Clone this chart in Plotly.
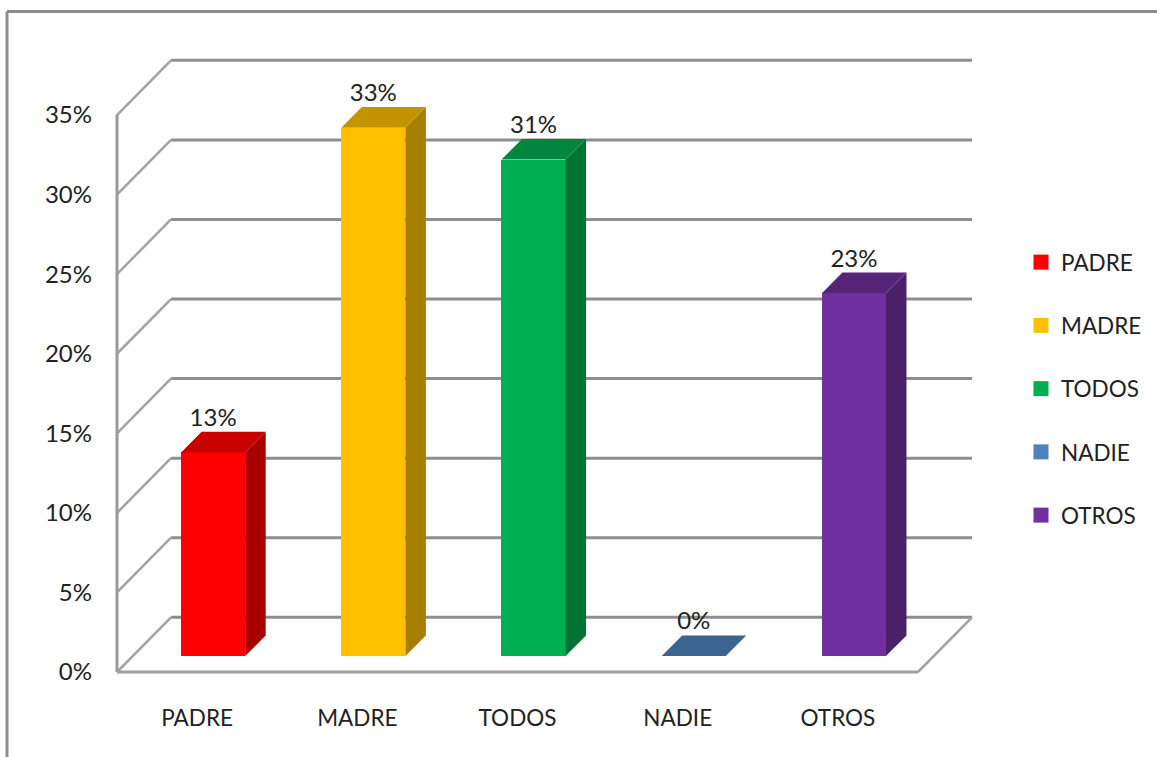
import plotly.graph_objects as go

categories = ["PADRE", "MADRE", "TODOS", "NADIE", "OTROS"]
values = [12.8, 33.2, 31.2, 0, 22.8]
front_colors = ["#FF0000", "#FFC000", "#00B050", "#4F81BD", "#7030A0"]
side_colors = ["#A80000", "#A87E00", "#007434", "#3C6490", "#4A2069"]
top_colors = ["#C80000", "#C49300", "#00863D", "#3C6490", "#562479"]
y_ticks = [0, 5, 10, 15, 20, 25, 30, 35]

W, H = 1157, 757
PAD = 5                              # spare pixels so edge lines are not clipped
L, R, T, B = 117 - PAD, 972 + PAD, 60 - PAD, 672 + PAD
X_LEFT, X_RIGHT = -0.5, 4.837        # box extent in data units
Y_TOP = 38.46
PX_PER_X, PX_PER_Y = 160.2, 15.914
WALL_DX, WALL_DY = 0.337, 3.44       # depth of the box
SHIFT_X, SHIFT_Y = 0.1, 1.0          # bars stand a little inside the floor
BAR_W = 0.4
BAR_DX, BAR_DY = 0.128, 1.3          # depth of a bar
FONT = "Lato, sans-serif"
FS = 22.5
FS_NUM = 24
GRID = "#8E8E8E"
DIAG = "#A3A3A3"

shapes = []
def line(x0, y0, x1, y1, color=GRID, width=3):
    shapes.append(dict(type="line", layer="below", xref="x", yref="y", x0=x0, y0=y0, x1=x1, y1=y1,
                       line=dict(color=color, width=width)))

for t in y_ticks:
    line(X_LEFT + WALL_DX, t + WALL_DY, X_RIGHT, t + WALL_DY)
    line(X_LEFT, t, X_LEFT + WALL_DX, t + WALL_DY, DIAG, 2.5)
line(X_LEFT, 0, X_LEFT, y_ticks[-1], "#9A9A9A", 3)
line(X_LEFT, 0, X_RIGHT - WALL_DX, 0, "#A0A0A0", 3)
line(X_RIGHT - WALL_DX, 0, X_RIGHT, WALL_DY, DIAG, 2.5)

def px(p): return (p - L) / (R - L)
def py(p): return (B - p) / (B - T)
for x0, y0, x1, y1 in [(7, 11.5, W, 11.5), (7, 11.5, 7, H)]:
    shapes.append(dict(type="line", layer="below", xref="paper", yref="paper",
                       x0=px(x0), y0=py(y0), x1=px(x1), y1=py(y1),
                       line=dict(color="#8C8C8C", width=3)))

fig = go.Figure()
centers = [i + SHIFT_X for i in range(len(categories))]

fig.add_trace(go.Bar(x=centers, y=values, base=[SHIFT_Y] * len(values), width=BAR_W,
                     marker=dict(color=front_colors, line=dict(width=0)), showlegend=False,
                     hoverinfo="skip"))

for c, v, sc, tc in zip(centers, values, side_colors, top_colors):
    x0, x1 = c - BAR_W / 2, c + BAR_W / 2
    y0, y1 = SHIFT_Y, SHIFT_Y + v
    if v > 0:
        fig.add_trace(go.Scatter(x=[x1, x1 + BAR_DX, x1 + BAR_DX, x1, x1],
                                 y=[y0, y0 + BAR_DY, y1 + BAR_DY, y1, y0],
                                 mode="lines", fill="toself", fillcolor=sc, line=dict(width=0),
                                 showlegend=False, hoverinfo="skip"))
    fig.add_trace(go.Scatter(x=[x0, x1, x1 + BAR_DX, x0 + BAR_DX, x0],
                             y=[y1, y1, y1 + BAR_DY, y1 + BAR_DY, y1],
                             mode="lines", fill="toself", fillcolor=tc, line=dict(width=0),
                             showlegend=False, hoverinfo="skip"))

fig.add_trace(go.Scatter(x=centers, y=[v + SHIFT_Y + 2.06 for v in values],
                         text=[f"{v:.0f}%" for v in values], mode="text",
                         textposition="middle center",
                         textfont=dict(family=FONT, size=FS_NUM, color="#222222"),
                         showlegend=False, hoverinfo="skip", cliponaxis=False))

for name, color in zip(categories, front_colors):
    fig.add_trace(go.Scatter(x=[None], y=[None], mode="markers", name=name, legendgroup=name,
                             marker=dict(symbol="square", size=15, color=color)))

fig.update_layout(
    width=W, height=H, margin=dict(l=L, r=W - R, t=T, b=H - B, pad=0, autoexpand=False),
    paper_bgcolor="white", plot_bgcolor="rgba(0,0,0,0)", shapes=shapes, bargap=0,
    xaxis=dict(range=[X_LEFT - PAD / PX_PER_X, X_RIGHT + PAD / PX_PER_X],
               tickvals=list(range(len(categories))), ticktext=categories,
               showgrid=False, zeroline=False, showline=False, ticks="", ticklabelstandoff=25,
               tickfont=dict(family=FONT, size=FS, color="#222222")),
    yaxis=dict(range=[-PAD / PX_PER_Y, Y_TOP + PAD / PX_PER_Y],
               tickvals=y_ticks, ticktext=[f"{t}%" for t in y_ticks],
               showgrid=False, zeroline=False, showline=False, ticks="", ticklabelstandoff=19,
               tickfont=dict(family=FONT, size=FS_NUM, color="#222222")),
    legend=dict(x=px(1021), xanchor="left", y=py(241), yanchor="top",
                traceorder="grouped", tracegroupgap=31, itemsizing="trace",
                font=dict(family=FONT, size=FS, color="#222222"), bgcolor="rgba(0,0,0,0)"),
    showlegend=True,
)

fig.write_html("out.html", config=dict(displayModeBar=False),
               post_script="document.body.style.margin='0';")
